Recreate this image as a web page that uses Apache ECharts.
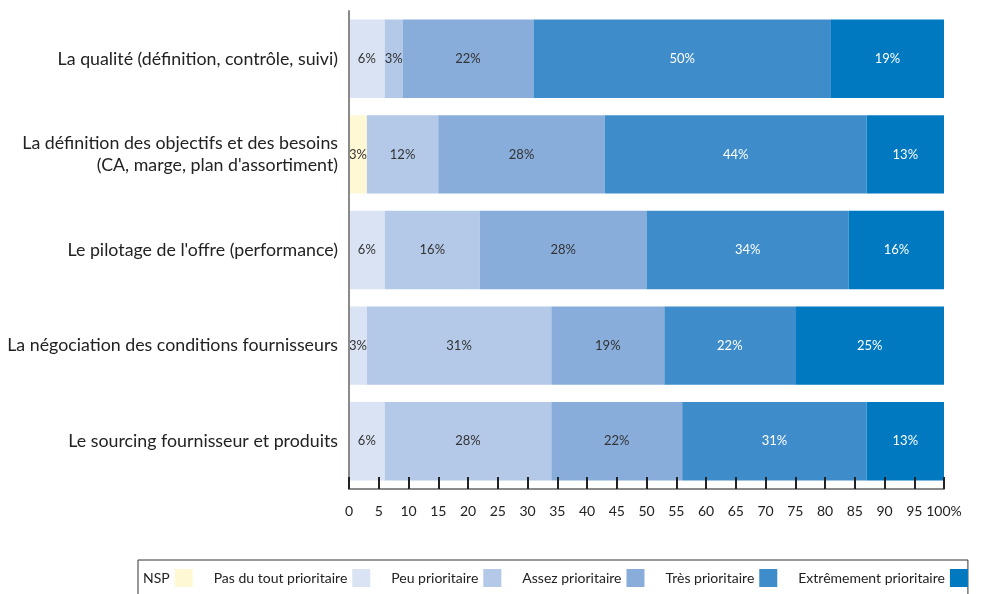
<!DOCTYPE html>
<html>
<head>
<meta charset="utf-8">
<script src="https://cdn.jsdelivr.net/npm/echarts@6/dist/echarts.min.js"></script>
<style>
  html, body { margin: 0; padding: 0; background: #fff; }
  #chart { width: 981px; height: 594px; }
</style>
</head>
<body>
<div id="chart"></div>
<script>
// Priorités par thème, en % des répondants
const categories = [
  "La qualité (définition, contrôle, suivi)",
  "La définition des objectifs et des besoins\n(CA, marge, plan d'assortiment)",
  "Le pilotage de l'offre (performance)",
  "La négociation des conditions fournisseurs",
  "Le sourcing fournisseur et produits"
];
const seriesNames = [
  "NSP",
  "Pas du tout prioritaire",
  "Peu prioritaire",
  "Assez prioritaire",
  "Très prioritaire",
  "Extrêmement prioritaire"
];
const nsp          = [0, 3, 0, 0, 0];
const pasDuTout    = [6, 0, 6, 3, 6];
const peu          = [3, 12, 16, 31, 28];
const assez        = [22, 28, 28, 19, 22];
const tres         = [50, 44, 34, 22, 31];
const extremement  = [19, 13, 16, 25, 13];
const xTicks = { min: 0, max: 100, interval: 5 };

const values = [nsp, pasDuTout, peu, assez, tres, extremement];
const colors = ["#FFF8D4", "#D9E3F3", "#B4C9E8", "#88ADDA", "#3F8CCA", "#0079C1"];
const labelColors = ["#333", "#333", "#333", "#333", "#fff", "#fff"];
const FONT = "Lato";

const chart = echarts.init(document.getElementById('chart'), null, { renderer: 'canvas' });

const series = seriesNames.map((name, i) => ({
  name,
  type: 'bar',
  stack: 'total',
  barCategoryGap: '18%',
  data: values[i],
  itemStyle: { color: colors[i] },
  label: {
    show: true,
    position: 'inside',
    color: labelColors[i],
    fontFamily: FONT,
    fontSize: 13,
    formatter: p => (p.value ? p.value + '%' : '')
  },
  emphasis: { disabled: true }
}));

// Legend swatches sit after each label: one rich-text box style per series colour
const swatchRich = { gap: { width: 5, height: 18 } };
colors.forEach((c, i) => {
  swatchRich['s' + i] = { backgroundColor: c, width: 18, height: 18 };
});

chart.setOption({
  animation: false,
  textStyle: { fontFamily: FONT },
  grid: { left: 349, right: 37, top: 11, bottom: 105, containLabel: false },
  xAxis: {
    type: 'value',
    min: xTicks.min,
    max: xTicks.max,
    interval: xTicks.interval,
    z: 5,
    splitLine: { show: false },
    axisLine: { show: true, lineStyle: { color: '#8a8a8a', width: 2 } },
    axisTick: { show: true, inside: true, length: 12, lineStyle: { color: '#222', width: 2 } },
    axisLabel: {
      color: '#222',
      fontSize: 14,
      margin: 15,
      fontFamily: FONT,
      formatter: v => (v === 100 ? '100%' : String(v))
    }
  },
  yAxis: {
    type: 'category',
    inverse: true,
    data: categories,
    z: 5,
    axisLine: { show: true, lineStyle: { color: '#8a8a8a', width: 2 } },
    axisTick: { show: false },
    axisLabel: {
      color: '#222',
      fontSize: 17.8,
      margin: 11,
      lineHeight: 22,
      align: 'right',
      fontFamily: FONT
    }
  },
  legend: {
    left: 138,
    top: 560,
    orient: 'horizontal',
    data: seriesNames,
    itemWidth: 0,
    itemHeight: 18,
    itemGap: 16,
    padding: [9, 0, 30, 0],
    borderColor: '#333',
    borderWidth: 1,
    selectedMode: false,
    icon: 'rect',
    formatter: name => name + '{gap|}{s' + seriesNames.indexOf(name) + '|}',
    textStyle: { color: '#222', fontSize: 14, fontFamily: FONT, rich: swatchRich }
  },
  series
});
</script>
</body>
</html>
